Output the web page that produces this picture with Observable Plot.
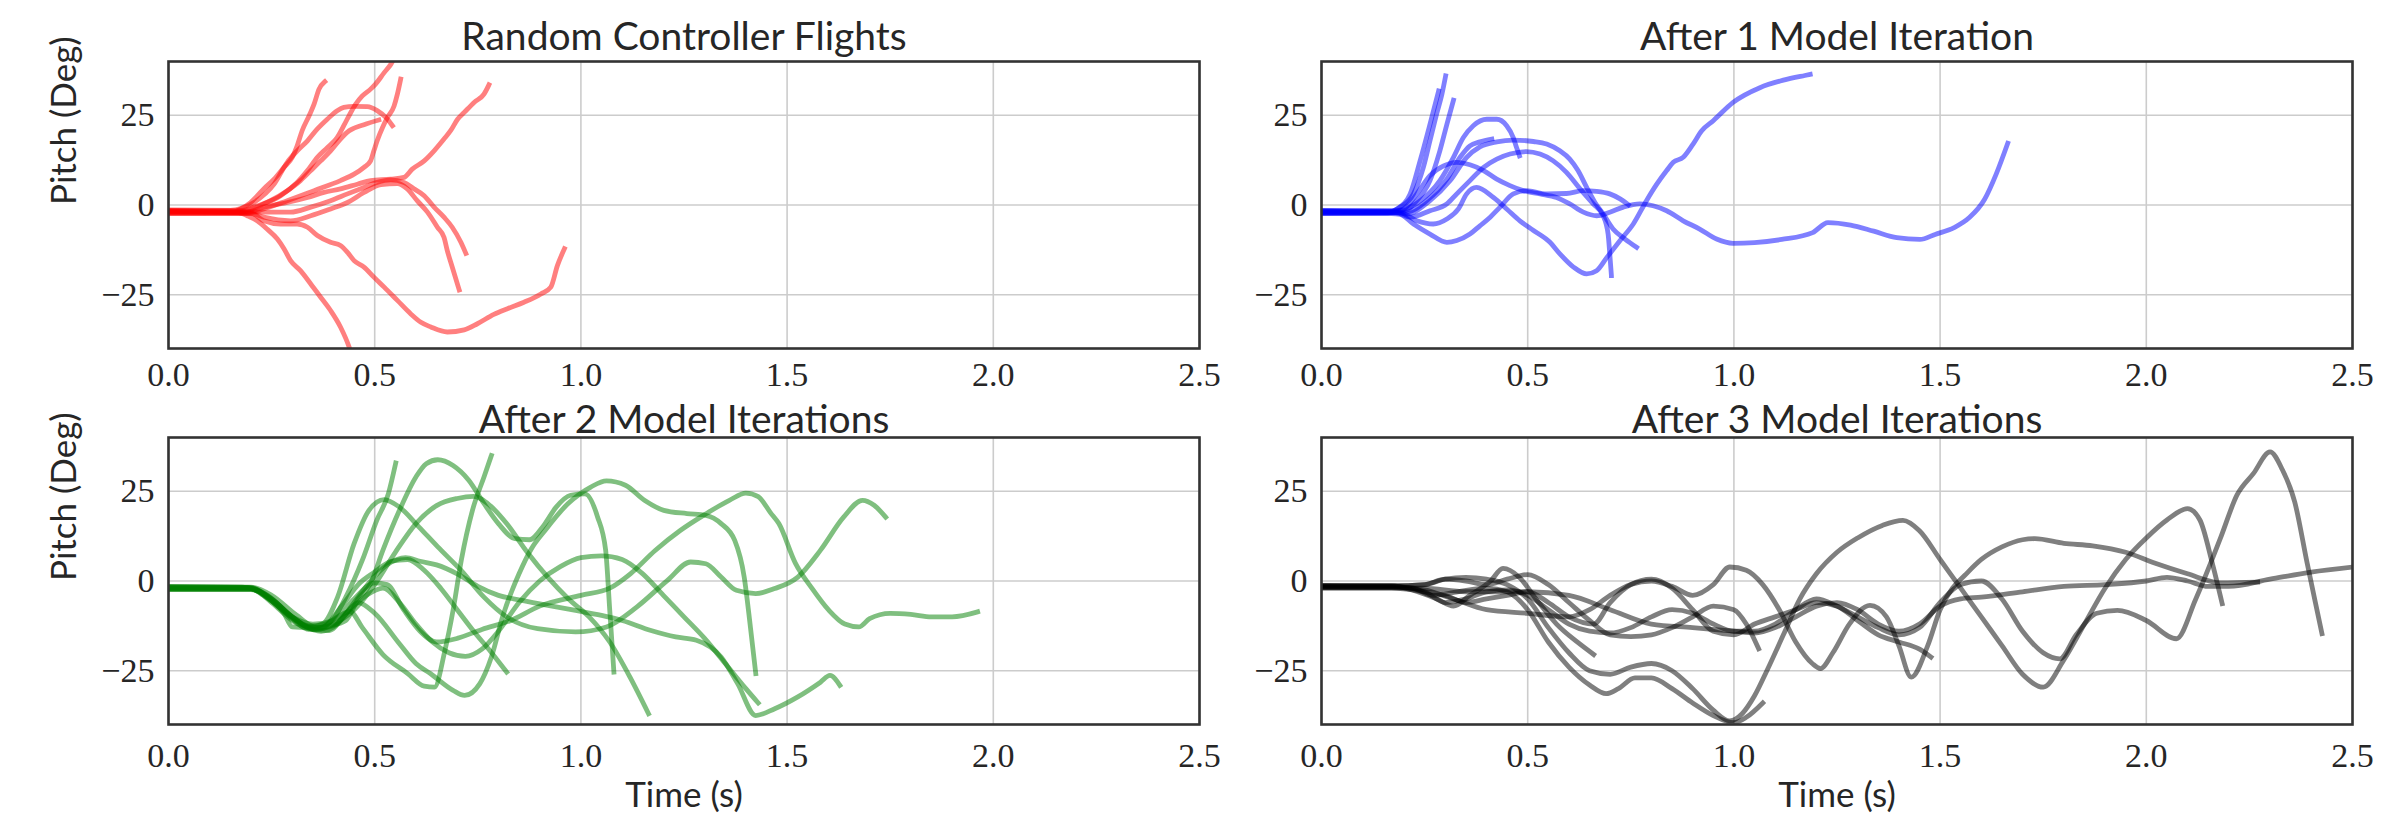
<!DOCTYPE html>
<html>
<head>
<meta charset="utf-8">
<script src="https://cdn.jsdelivr.net/npm/d3@7"></script>
<script src="https://cdn.jsdelivr.net/npm/@observablehq/plot@0.6"></script>
<style>
  body { margin: 0; background: #fff; }
  #fig { position: relative; width: 2400px; height: 825px; overflow: hidden; background: #fff; }
  #fig svg { position: absolute; overflow: visible; }
</style>
</head>
<body>
<div id="fig"></div>
<script>
// Tick values shared by all four panels
const timeTicks = [0, 0.5, 1, 1.5, 2, 2.5];
const pitchTicks = [-25, 0, 25];

const panelTitles = ["Random Controller Flights", "After 1 Model Iteration", "After 2 Model Iterations", "After 3 Model Iterations"];
const pitchLabel = "Pitch (Deg)";
const timeLabel = "Time (s)";

// Each flight: [time (s), pitch (deg)] samples
const randomFlights = [
  [[0,-1.5],[0.15,-1.5],[0.175,-1.0],[0.199,0.7],[0.215,2.5],[0.231,4.5],[0.256,7.2],[0.28,10.5],[0.3,13.3],[0.312,16.5],[0.324,20.7],[0.341,24.9],[0.353,28.1],[0.365,32.3],[0.379,34.4]],
  [[0,-2.3],[0.17,-2.2],[0.2,-1.2],[0.231,0.3],[0.272,2.6],[0.312,6.3],[0.337,9.6],[0.361,13.3],[0.385,16.0],[0.409,18.8],[0.425,22.1],[0.442,25.8],[0.454,28.1],[0.47,30.4],[0.49,32.3],[0.502,33.7],[0.523,36.9],[0.539,39.2],[0.547,40.8]],
  [[0,-1.8],[0.16,-1.9],[0.175,-1.1],[0.207,0.7],[0.256,5.8],[0.288,11.9],[0.312,15.1],[0.337,17.9],[0.361,21.2],[0.385,23.9],[0.409,26.3],[0.425,27.2],[0.45,27.5],[0.482,27.4],[0.506,26.3],[0.527,24.4],[0.543,22.1]],
  [[0,-1.4],[0.18,-1.5],[0.207,-0.6],[0.247,1.2],[0.288,4.0],[0.32,6.8],[0.345,9.6],[0.369,12.3],[0.393,15.1],[0.417,18.4],[0.438,20.7],[0.474,22.4],[0.51,23.7]],
  [[0,-2.4],[0.19,-2.3],[0.231,-1.1],[0.288,1.2],[0.353,4.0],[0.417,6.8],[0.45,8.6],[0.474,10.5],[0.49,12.3],[0.498,15.1],[0.506,17.9],[0.519,21.6],[0.531,24.4],[0.547,27.6],[0.555,30.9],[0.563,35.1]],
  [[0,-1.9],[0.19,-1.9],[0.231,-0.6],[0.288,0.7],[0.337,2.1],[0.377,3.5],[0.417,4.5],[0.458,5.8],[0.49,6.8],[0.539,7.2],[0.571,7.7],[0.591,10.0],[0.62,12.3],[0.644,15.1],[0.668,18.4],[0.684,20.7],[0.701,23.9],[0.717,25.8],[0.741,28.6],[0.765,30.9],[0.777,33.5]],
  [[0,-1.7],[0.2,-1.9],[0.231,-2.0],[0.296,-2.0],[0.345,-0.6],[0.393,1.2],[0.434,3.1],[0.474,4.9],[0.506,6.3],[0.539,7.0],[0.571,6.3],[0.595,4.5],[0.62,2.6],[0.644,-0.6],[0.668,-3.4],[0.688,-6.2],[0.709,-10.4],[0.721,-13.5]],
  [[0,-2.1],[0.2,-2.4],[0.231,-3.4],[0.296,-4.4],[0.345,-3.0],[0.393,-1.1],[0.434,0.7],[0.474,3.5],[0.515,5.7],[0.555,6.0],[0.579,4.5],[0.603,1.2],[0.628,-2.0],[0.652,-6.2],[0.668,-9.0],[0.676,-12.7],[0.688,-17.3],[0.705,-23.7]],
  [[0,-2.0],[0.17,-2.1],[0.191,-3.0],[0.215,-4.4],[0.239,-6.7],[0.264,-9.5],[0.28,-12.2],[0.296,-15.5],[0.32,-18.3],[0.345,-22.0],[0.369,-25.7],[0.393,-29.4],[0.417,-34.0],[0.438,-39.6],[0.442,-41]],
  [[0,-1.6],[0.2,-2.2],[0.231,-4.4],[0.272,-5.3],[0.312,-5.3],[0.337,-6.2],[0.361,-8.5],[0.393,-10.4],[0.417,-11.3],[0.434,-13.2],[0.45,-15.5],[0.474,-17.3],[0.498,-20.1],[0.523,-22.9],[0.555,-26.6],[0.587,-30.3],[0.612,-32.7],[0.636,-34.0],[0.676,-35.4],[0.717,-34.8],[0.749,-33.1],[0.789,-30.5],[0.822,-28.9],[0.862,-27.1],[0.903,-24.8],[0.927,-22.9],[0.943,-16.9],[0.96,-12.2]]
];

const iteration1Flights = [
  [[0,-1.6],[0.17,-1.7],[0.191,-0.6],[0.223,3.1],[0.247,10.5],[0.263,17.9],[0.279,25.3],[0.292,30.9],[0.301,36.0]],
  [[0,-2.3],[0.16,-2.2],[0.183,-1.1],[0.215,3.1],[0.239,12.3],[0.263,22.5],[0.284,31.8]],
  [[0,-1.5],[0.17,-1.6],[0.199,-1.6],[0.231,1.2],[0.263,6.8],[0.287,15.1],[0.304,22.5],[0.32,29.2]],
  [[0,-1.9],[0.17,-1.9],[0.191,-1.6],[0.24,1.2],[0.287,6.8],[0.32,13.3],[0.344,18.8],[0.368,22.1],[0.401,23.9],[0.425,23.9],[0.449,22.1],[0.465,18.8],[0.473,16.0],[0.48,13.7]],
  [[0,-2.1],[0.18,-2.1],[0.207,-2.0],[0.255,1.2],[0.304,7.2],[0.336,13.3],[0.36,16.5],[0.384,17.6],[0.413,18.4]],
  [[0,-1.8],[0.18,-2.0],[0.207,-2.5],[0.263,1.2],[0.312,6.8],[0.352,13.3],[0.384,16.2],[0.425,17.6],[0.465,18.1],[0.514,17.7],[0.546,17.0],[0.578,15.1],[0.602,12.8],[0.622,9.6],[0.643,4.9],[0.663,0.7],[0.683,-2.5],[0.707,-6.7],[0.736,-9.5],[0.764,-11.8]],
  [[0,-2.0],[0.18,-2.1],[0.215,-3.4],[0.263,-1.6],[0.304,0.3],[0.328,3.1],[0.36,6.8],[0.393,10.5],[0.425,12.8],[0.457,14.2],[0.497,14.9],[0.53,14.2],[0.562,12.3],[0.594,9.1],[0.627,4.5],[0.659,0.3],[0.683,-3.0],[0.695,-8.1],[0.699,-13.6],[0.703,-19.7]],
  [[0,-1.7],[0.17,-1.8],[0.199,-1.1],[0.231,3.1],[0.263,8.2],[0.296,10.9],[0.328,11.9],[0.36,11.2],[0.393,9.6],[0.425,7.2],[0.457,5.4],[0.489,4.0],[0.53,3.1],[0.57,2.1],[0.602,0.3],[0.635,-2.0],[0.667,-3.0],[0.699,-2.0],[0.732,-0.6],[0.772,0.3],[0.804,-0.2],[0.837,-1.6],[0.877,-4.4],[0.917,-6.7],[0.958,-9.5],[0.998,-10.7],[1.05,-10.5],[1.116,-9.6],[1.191,-7.7],[1.228,-4.9],[1.283,-5.6],[1.339,-7.3],[1.395,-9.1],[1.451,-9.6],[1.488,-8.2],[1.534,-6.3],[1.571,-3.5],[1.608,1.6],[1.636,8.6],[1.664,17.2]],
  [[0,-2.2],[0.17,-2.2],[0.191,-2.2],[0.231,-4.4],[0.271,-5.3],[0.304,-3.9],[0.332,-1.1],[0.352,3.1],[0.376,4.9],[0.417,2.1],[0.449,-1.1],[0.481,-4.4],[0.514,-7.1],[0.554,-10.4],[0.578,-13.6],[0.611,-17.3],[0.643,-19.2],[0.667,-18.3],[0.692,-14.6],[0.724,-9.9],[0.756,-5.3],[0.788,1.2],[0.813,5.8],[0.837,9.6],[0.853,11.9],[0.877,13.3],[0.901,17.0],[0.922,20.7],[0.95,23.5],[0.998,28.6],[1.063,32.7],[1.12,34.8],[1.172,36.1],[1.185,36.4]],
  [[0,-2.4],[0.17,-2.4],[0.191,-2.6],[0.223,-5.3],[0.263,-8.1],[0.304,-10.4],[0.328,-9.9],[0.36,-8.1],[0.384,-5.8],[0.409,-3.4],[0.433,-0.6],[0.465,3.1],[0.497,4.0],[0.546,3.1],[0.594,3.2],[0.635,4.0],[0.667,3.8],[0.699,3.1],[0.724,1.7],[0.744,0.1]]
];

const iteration2Flights = [
  [[0,-1.6],[0.18,-1.7],[0.22,-3.0],[0.27,-7.5],[0.31,-11.5],[0.34,-13.5],[0.37,-13.0],[0.4,-10.5],[0.43,-4.5],[0.47,5.8],[0.505,16.9],[0.533,24.3],[0.551,32.9]],
  [[0,-2.2],[0.2,-2.2],[0.25,-5],[0.3,-10],[0.34,-12.5],[0.38,-12.0],[0.41,-10.0],[0.44,-8.5],[0.47,-13.0],[0.52,-20.5],[0.58,-25.8],[0.62,-29.3],[0.645,-29.6],[0.67,-19.5],[0.69,-8.2],[0.71,5.8],[0.737,19.7],[0.765,29.0],[0.783,35.0]],
  [[0,-1.5],[0.2,-1.7],[0.25,-4],[0.31,-9.5],[0.36,-13],[0.39,-12.5],[0.43,-11.0],[0.46,-5],[0.49,-0.7],[0.52,8.6],[0.56,19.7],[0.6,29.0],[0.625,32.7],[0.653,33.8],[0.69,32.2],[0.728,28.1],[0.765,21.6],[0.8,16.0],[0.84,11.8],[0.875,11.5],[0.91,15.5],[0.94,20.6],[0.975,23.9],[1.01,24.3],[1.04,18.0],[1.06,8.6],[1.07,-8.2],[1.08,-25.4]],
  [[0,-2.3],[0.2,-2.3],[0.24,-4],[0.29,-9],[0.33,-12.5],[0.37,-14],[0.41,-12],[0.45,-6],[0.49,0],[0.53,4.5],[0.575,6.5],[0.61,5.5],[0.65,4.5],[0.7,2.0],[0.75,-1.5],[0.8,-4.0],[0.857,-5.4],[0.92,-6.8],[0.987,-8.2],[1.05,-9.6],[1.1,-11.0],[1.17,-13.8],[1.23,-15.6],[1.28,-16.5],[1.34,-21.2],[1.38,-28.6],[1.424,-37.5],[1.47,-35.6],[1.526,-32.3],[1.581,-28.2],[1.604,-26.3],[1.628,-29.1]],
  [[0,-1.8],[0.19,-1.8],[0.23,-4],[0.28,-9],[0.3,-12.8],[0.34,-13],[0.375,-11.9],[0.41,-4.5],[0.45,10.4],[0.486,19.7],[0.523,22.7],[0.56,20.6],[0.607,15.1],[0.653,9.5],[0.709,3.0],[0.765,-4.5],[0.82,-10.0],[0.895,-13.3],[0.987,-14.2],[1.062,-12.8],[1.136,-7.2],[1.21,0.2],[1.266,5.3],[1.303,4.8],[1.34,1.1],[1.377,-2.6],[1.424,-3.5],[1.47,-2.1],[1.526,1.1],[1.581,8.6],[1.637,17.8],[1.683,22.5],[1.711,21.1],[1.739,17.8]],
  [[0,-2.4],[0.2,-2.4],[0.25,-5],[0.3,-10],[0.35,-13.5],[0.39,-13.8],[0.43,-9],[0.46,-6],[0.5,-9],[0.56,-17.5],[0.6,-23],[0.635,-25.8],[0.69,-30.5],[0.718,-31.9],[0.755,-28.6],[0.783,-21.2],[0.81,-10],[0.85,2],[0.88,9],[0.913,14.1],[0.969,21.6],[1.024,26.2],[1.062,27.9],[1.108,26.7],[1.154,22.5],[1.201,19.7],[1.257,18.8],[1.303,18.3],[1.34,16.0],[1.373,11.3],[1.396,1.1],[1.411,-12.8],[1.424,-25.8]],
  [[0,-1.9],[0.2,-2],[0.25,-5.5],[0.3,-10],[0.35,-12],[0.4,-11],[0.45,-5],[0.5,-0.5],[0.53,-1],[0.57,-8],[0.61,-14],[0.65,-17],[0.7,-16],[0.76,-13.5],[0.83,-11],[0.9,-7],[1.0,-4],[1.07,-2],[1.12,2],[1.18,8.5],[1.24,14],[1.3,18.5],[1.36,22.5],[1.4,24.5],[1.43,23.5],[1.46,19],[1.48,16],[1.52,5],[1.56,-2],[1.6,-8],[1.64,-12],[1.674,-12.8],[1.7,-10.5],[1.75,-9.0],[1.8,-9.3],[1.85,-10],[1.9,-10],[1.962,-8.6]],
  [[0,-1.7],[0.2,-1.8],[0.24,-4.5],[0.29,-9.5],[0.33,-12.5],[0.37,-13],[0.42,-7],[0.46,-1],[0.5,2.5],[0.54,5.5],[0.58,6],[0.62,3],[0.66,-2],[0.7,-8],[0.74,-14],[0.78,-19.5],[0.82,-25.4]],
  [[0,-2.0],[0.2,-2.0],[0.26,-6],[0.31,-11],[0.36,-13.5],[0.4,-12],[0.45,-8],[0.5,-1],[0.55,8],[0.6,16],[0.65,21],[0.7,23],[0.74,23.6],[0.78,21],[0.82,16],[0.87,8],[0.92,1],[0.97,-5],[1.02,-10],[1.07,-17],[1.12,-27],[1.164,-37.0]],
  [[0,-2.1],[0.2,-2.1],[0.25,-6],[0.3,-11],[0.35,-13.5],[0.4,-12.5],[0.44,-8],[0.48,-4],[0.52,-2],[0.56,-6],[0.6,-12],[0.64,-17],[0.68,-20],[0.72,-21],[0.76,-19],[0.8,-14],[0.85,-6],[0.9,0],[0.95,4],[1.0,6.5],[1.05,7],[1.1,6],[1.15,2],[1.2,-4],[1.25,-10],[1.3,-16],[1.35,-23],[1.4,-30],[1.43,-34]]
];

const iteration3Flights = [
  [[0,-1.2],[0.17,-1.3],[0.22,-2.5],[0.28,-5],[0.32,-7],[0.36,-4],[0.41,0],[0.44,3.5],[0.48,1],[0.52,-5],[0.57,-12],[0.62,-17],[0.66,-20.5]],
  [[0,-1.8],[0.17,-1.8],[0.22,-2],[0.27,-4],[0.33,-3],[0.4,-2],[0.45,-3],[0.5,-8],[0.55,-17],[0.6,-24],[0.65,-29],[0.69,-31.4],[0.72,-30],[0.76,-27],[0.8,-27],[0.85,-30],[0.9,-34],[0.95,-37.5],[1.0,-39.5],[1.03,-38],[1.07,-34]],
  [[0,-1.3],[0.17,-1.4],[0.25,-1],[0.3,0.5],[0.35,1],[0.4,0.5],[0.45,-1],[0.5,-5],[0.55,-13],[0.6,-20],[0.65,-25],[0.7,-26],[0.75,-24],[0.8,-23],[0.85,-25],[0.9,-30],[0.95,-36],[0.99,-39],[1.02,-37],[1.05,-32],[1.08,-25],[1.12,-15],[1.16,-5],[1.2,2],[1.25,8],[1.3,12],[1.36,15.5],[1.41,16.9],[1.45,14],[1.5,6],[1.55,-2],[1.6,-10],[1.65,-18],[1.7,-26],[1.75,-29.6],[1.8,-22],[1.85,-12],[1.9,-2],[1.95,6],[2.0,12],[2.05,17],[2.1,20.2],[2.13,17],[2.16,5],[2.184,-6.3]],
  [[0,-1.6],[0.17,-1.6],[0.25,-2.5],[0.32,-5],[0.4,-8],[0.5,-9],[0.6,-10],[0.65,-8],[0.7,-4],[0.75,-1],[0.8,0],[0.85,-1.5],[0.9,-4],[0.95,-1],[0.99,3.9],[1.03,3],[1.07,-1],[1.11,-8],[1.15,-17],[1.19,-23],[1.21,-24.4],[1.24,-20],[1.28,-12],[1.33,-6.8],[1.37,-10],[1.4,-18],[1.43,-26.8],[1.47,-18],[1.5,-8],[1.53,-2],[1.56,1.6],[1.6,6],[1.65,9.5],[1.7,11.5],[1.73,11.8],[1.8,10.5],[1.87,9.8],[1.95,8],[2.02,5],[2.1,2],[2.18,-0.5],[2.27,-0.3]],
  [[0,-1.9],[0.17,-1.9],[0.25,-2],[0.35,-3],[0.45,-3],[0.5,-3],[0.6,-4],[0.7,-8],[0.8,-12],[0.9,-13],[1.0,-14],[1.05,-14.5],[1.1,-13],[1.15,-10],[1.2,-7],[1.25,-6],[1.3,-8],[1.35,-12],[1.4,-14],[1.45,-12],[1.5,-7],[1.55,-5],[1.6,-4.5],[1.7,-3],[1.8,-1.5],[1.9,-1],[2.0,0],[2.05,1],[2.1,0],[2.15,-1.5],[2.2,-1.5],[2.3,0.5],[2.4,2.5],[2.5,3.9]],
  [[0,-1.5],[0.17,-1.5],[0.25,-3],[0.3,-6],[0.35,-5],[0.4,-3],[0.45,-2.5],[0.5,-4],[0.55,-8],[0.6,-12],[0.65,-14],[0.7,-14.5],[0.75,-13],[0.8,-10],[0.85,-8],[0.9,-9],[0.95,-12],[1.0,-14],[1.05,-14],[1.1,-12],[1.15,-8],[1.2,-5],[1.25,-7],[1.3,-10],[1.35,-13],[1.4,-15],[1.45,-13],[1.5,-6],[1.55,-1],[1.6,0],[1.65,-5],[1.7,-14],[1.75,-20],[1.79,-21.7],[1.83,-15],[1.88,-9],[1.93,-8.2],[2.0,-11],[2.073,-16.1],[2.12,-5],[2.18,12],[2.22,24],[2.26,30],[2.3,36],[2.33,31],[2.36,22],[2.39,5],[2.41,-6],[2.426,-14.7]],
  [[0,-1.4],[0.17,-1.4],[0.25,-1],[0.3,0.5],[0.35,0],[0.4,-1],[0.45,0.5],[0.5,1.8],[0.55,-1],[0.6,-6],[0.65,-11],[0.7,-15],[0.75,-15.5],[0.8,-15],[0.85,-13],[0.9,-10],[0.95,-7],[1.0,-8],[1.03,-12],[1.06,-18.9]],
  [[0,-2.0],[0.17,-2.0],[0.25,-3],[0.3,-4],[0.35,-6],[0.4,-5],[0.45,-4],[0.5,-3],[0.55,-6],[0.6,-10],[0.66,-12],[0.7,-6],[0.75,-1],[0.8,0.5],[0.85,-2],[0.9,-8],[0.95,-14],[1.0,-15],[1.05,-12],[1.1,-10],[1.15,-8],[1.2,-6],[1.25,-7],[1.3,-11],[1.35,-15],[1.4,-17],[1.45,-19],[1.478,-21.2]]
];

const flightSets = [randomFlights, iteration1Flights, iteration2Flights, iteration3Flights];
const flightColors = ["#ff0000", "#0000ff", "#008000", "#000000"];

// Frame placement of each axes box on the page
const FRAME_W = 1031, FRAME_H = 287;
const frameLefts = [167.5, 1321, 167.5, 1321];
const frameTops = [60.7, 60.7, 437.3, 437.3];

const fig = document.getElementById("fig");
const tickFont = "'Liberation Serif', 'DejaVu Serif', serif";
const labelFont = "Lato, 'Open Sans', sans-serif";
const ink = "#262626";

flightSets.forEach((flights, i) => {
  const rows = flights.flatMap((f, k) => f.map(([t, v]) => ({t, v, flight: k})));
  const mL = 140, mT = 70, mR = 40, mB = 110;
  const topRow = i < 2;
  const showPitch = i % 2 === 0;
  const showTime = !topRow;
  const marks = [
    Plot.gridX(timeTicks, {stroke: "#cccccc", strokeOpacity: 1, strokeWidth: 1.6}),
    Plot.gridY(pitchTicks, {stroke: "#cccccc", strokeOpacity: 1, strokeWidth: 1.6}),
    Plot.line(rows, {
      x: "t", y: "v", z: "flight",
      stroke: flightColors[i], strokeOpacity: 0.5, strokeWidth: 4.8,
      strokeLinecap: "square", strokeLinejoin: "round",
      curve: "monotone-x", clip: true
    }),
    Plot.frame({stroke: "#333333", strokeWidth: 2.6}),
    Plot.axisX({ticks: timeTicks, tickFormat: d3.format(".1f"), tickSize: 0, tickPadding: topRow ? 13 : 18,
      fontSize: 34, fontFamily: tickFont, fill: ink, label: null}),
    Plot.axisY({ticks: pitchTicks, tickSize: 0, tickPadding: 14,
      fontSize: 34, fontFamily: tickFont, fill: ink, label: null}),
    Plot.text([panelTitles[i]], {frameAnchor: "top", dy: topRow ? -23.5 : -17, lineAnchor: "middle",
      fontSize: 39, fontFamily: labelFont, fill: ink})
  ];
  if (showPitch) marks.push(Plot.text([pitchLabel], {frameAnchor: "left", dx: -104, rotate: -90,
      lineAnchor: "middle", fontSize: 35, fontFamily: labelFont, fill: ink}));
  if (showTime) marks.push(Plot.text([timeLabel], {frameAnchor: "bottom", dy: 71.2, lineAnchor: "middle",
      fontSize: 35, fontFamily: labelFont, fill: ink}));
  const svg = Plot.plot({
    width: mL + FRAME_W + mR,
    height: mT + FRAME_H + mB,
    marginLeft: mL, marginRight: mR, marginTop: mT, marginBottom: mB,
    x: {domain: [0, 2.5]},
    y: {domain: [-40, 40]},
    style: {background: "transparent", overflow: "visible", color: ink},
    marks
  });
  svg.style.left = (frameLefts[i] - mL) + "px";
  svg.style.top = (frameTops[i] - mT) + "px";
  fig.appendChild(svg);
});
</script>
</body>
</html>
